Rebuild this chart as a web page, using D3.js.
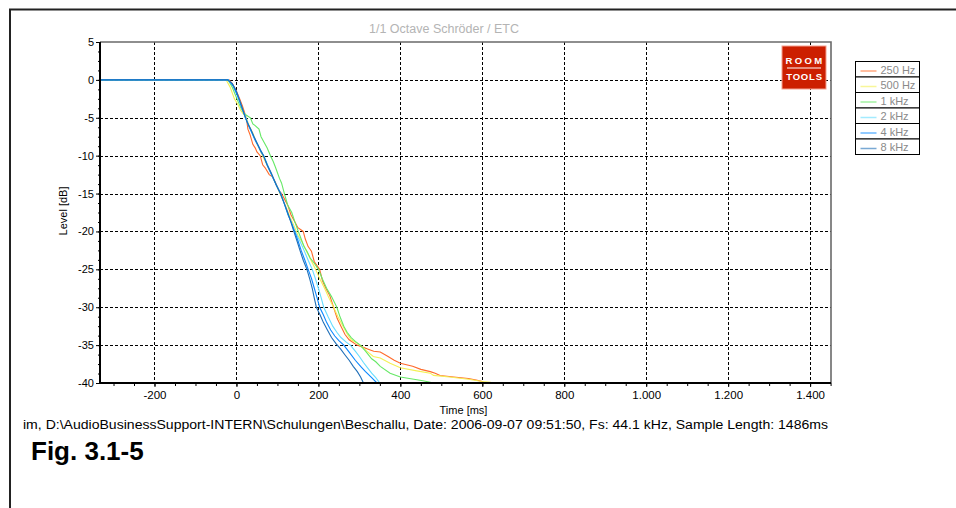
<!DOCTYPE html>
<html>
<head>
<meta charset="utf-8">
<script src="https://cdn.jsdelivr.net/npm/d3@7"></script>
<style>
  body { margin: 0; background: #fff; }
  svg { display: block; font-family: Arial, "Liberation Sans", sans-serif; }
</style>
</head>
<body>
<script>
// decay curves, [time ms, level dB]
const bands = ['250 Hz', '500 Hz', '1 kHz', '2 kHz', '4 kHz', '8 kHz'];
const bandColors = ['#ff6a2a', '#f4f055', '#66e866', '#66ddff', '#0a88ff', '#1f6fb8'];

const curve250 = [[-333,0],[-18,0],[-10,-0.5],[0,-1.5],[8,-2.5],[15,-3.5],[24,-5],[28,-6.5],[33,-7.2],[40,-8.5],[46,-9],[50,-9.5],[58,-10],[64,-11.2],[70,-11.6],[80,-12.5],[88,-12.8],[95,-13.5],[103,-14.5],[110,-15],[118,-15.8],[125,-16.5],[133,-17.8],[140,-18.5],[150,-19.5],[163,-20],[168,-21],[175,-22],[183,-22.6],[190,-24],[203,-25],[210,-26.5],[218,-27.5],[228,-28.5],[237,-30],[246,-31.5],[255,-32.5],[265,-33.6],[275,-34.3],[294,-35],[305,-35.2],[320,-35.5],[335,-35.8],[351,-35.9],[370,-36.5],[385,-37],[400,-37.4],[430,-37.8],[450,-38.2],[473,-38.5],[485,-38.7],[497,-39],[530,-39.2],[566,-39.4],[585,-39.6],[600,-39.8],[605,-40]];
const curve500 = [[-333,0],[-25,0],[-15,-1],[-5,-2.5],[3,-3.2],[10,-4],[24,-5],[32,-6.2],[40,-7],[48,-8.2],[55,-9],[68,-10.5],[78,-11.6],[90,-13],[100,-14.2],[110,-15.5],[120,-16.6],[130,-18],[140,-19.2],[150,-20.5],[160,-21.4],[170,-22.5],[182,-23.8],[193,-25],[204,-26.3],[215,-27.5],[226,-28.8],[237,-30],[248,-31.3],[260,-32.5],[270,-33.5],[280,-34.3],[290,-34.6],[302,-35],[318,-35.8],[334,-36.5],[351,-36.7],[375,-37.4],[400,-38],[440,-38.4],[473,-38.7],[481,-39],[520,-39.2],[566,-39.5],[600,-39.8],[620,-39.9],[625,-40]];
const curve1k = [[-333,0],[-20,0],[-10,-1],[5,-3],[12,-3.8],[20,-4.5],[34,-5],[40,-5.8],[45,-6],[55,-6.5],[60,-7.5],[65,-8],[75,-9],[83,-10],[90,-10.8],[95,-11.5],[105,-13],[110,-13.6],[117,-15],[125,-16.5],[135,-17.5],[143,-18.8],[151,-20],[158,-21],[165,-22],[172,-22.6],[180,-23.5],[190,-24.2],[200,-25],[210,-26.3],[220,-27.5],[232,-28.6],[245,-30],[253,-31.3],[262,-32.5],[270,-33.3],[280,-34],[290,-34.5],[302,-35],[315,-35.8],[330,-36.8],[340,-37.2],[351,-37.8],[375,-38.7],[400,-39.2],[433,-39.5],[455,-39.7],[473,-39.9],[477,-40]];
const curve2k = [[-333,0],[-20,0],[-8,-0.8],[2,-2],[12,-3.5],[23,-5],[30,-6],[38,-7],[45,-7.8],[52,-8.6],[60,-9.4],[67,-10],[78,-11.5],[88,-12.8],[98,-13.9],[108,-15],[118,-16.5],[126,-17.8],[135,-18.9],[143,-20],[155,-21.3],[165,-22.5],[175,-23.8],[185,-25],[193,-26.3],[200,-27.5],[207,-28.8],[213,-30],[224,-31.3],[235,-32.5],[245,-33.3],[255,-34],[268,-34.6],[278,-35],[290,-35.8],[300,-36.5],[310,-37.3],[320,-38],[330,-38.7],[340,-39.3],[350,-40]];
const curve4k = [[-333,0],[-20,0],[-8,-0.8],[2,-2],[12,-3.5],[22,-5],[30,-6.1],[38,-7],[45,-7.9],[52,-8.6],[60,-9.5],[66,-10],[76,-11.4],[88,-12.8],[98,-14],[108,-15],[117,-16.4],[126,-17.8],[134,-18.8],[142,-20],[150,-21.2],[158,-22.5],[167,-23.8],[175,-25],[183,-26.2],[190,-27.5],[197,-28.8],[203,-30],[212,-31],[220,-32],[230,-33],[240,-33.8],[250,-34.4],[262,-35],[276,-36],[290,-37],[303,-37.8],[315,-38.5],[330,-39.3],[343,-40]];
const curve8k = [[-333,0],[-22,0],[-10,-0.5],[0,-1.5],[10,-3],[22,-5],[28,-5.8],[35,-6.5],[43,-7.5],[50,-8.3],[58,-9.2],[66,-10],[75,-11.2],[85,-12.3],[96,-13.7],[107,-15],[116,-16.2],[125,-17.5],[133,-18.8],[140,-20],[148,-21.3],[155,-22.5],[163,-23.8],[172,-25],[179,-26.3],[185,-27.5],[190,-28.8],[195,-30],[204,-31],[212,-32],[222,-33],[232,-34],[243,-34.8],[254,-35.5],[265,-36.3],[275,-37],[285,-37.8],[295,-38.5],[303,-39.2],[310,-40]];
const curves = [curve250, curve500, curve1k, curve2k, curve4k, curve8k];

const xTicks = [-200, 0, 200, 400, 600, 800, 1000, 1200, 1400];
const yTicks = [5, 0, -5, -10, -15, -20, -25, -30, -35, -40];

const width = 956, height = 508;
const plot = { left: 100, right: 831, top: 42, bottom: 383 };

const svg = d3.select('body').append('svg')
  .attr('width', width)
  .attr('height', height);

// outer frame (runs off the page to the right and bottom)
svg.append('rect')
  .attr('x', 10).attr('y', 9.5)
  .attr('width', 1000).attr('height', 600)
  .attr('fill', 'none')
  .attr('stroke', '#222')
  .attr('stroke-width', 2);

const x = d3.scaleLinear().domain([-333, 1451]).range([plot.left, plot.right]);
const y = d3.scaleLinear().domain([-40, 5]).range([plot.bottom, plot.top]);

const de = d3.formatLocale({ decimal: ',', thousands: '.', grouping: [3], currency: ['', ''], minus: '-' });
const fmt = de.format(',d');

// grid
const grid = svg.append('g')
  .attr('stroke', '#000')
  .attr('stroke-width', 1)
  .attr('stroke-dasharray', '3,2');
grid.selectAll('line.v')
  .data(xTicks)
  .join('line')
  .attr('class', 'v')
  .attr('x1', d => Math.round(x(d)) + 0.5)
  .attr('x2', d => Math.round(x(d)) + 0.5)
  .attr('y1', plot.top)
  .attr('y2', plot.bottom);
grid.selectAll('line.h')
  .data(yTicks.filter(d => d < 5 && d > -40))
  .join('line')
  .attr('class', 'h')
  .attr('y1', d => Math.round(y(d)) + 0.5)
  .attr('y2', d => Math.round(y(d)) + 0.5)
  .attr('x1', plot.left)
  .attr('x2', plot.right);

// top / right border
svg.append('path')
  .attr('d', `M${plot.left},${plot.top}H${plot.right}V${plot.bottom}`)
  .attr('fill', 'none')
  .attr('stroke', '#6a6a6a')
  .attr('stroke-width', 1.6);

// curves
const line = d3.line()
  .x(d => x(d[0]))
  .y(d => y(d[1]));

svg.append('g')
  .attr('fill', 'none')
  .attr('stroke-width', 1.1)
  .selectAll('path')
  .data(curves)
  .join('path')
  .attr('stroke', (_, i) => bandColors[i])
  .attr('d', line);

// y axis
svg.append('g')
  .attr('transform', `translate(${plot.left},0)`)
  .call(d3.axisLeft(y).tickValues(d3.range(-40, 5.01, 1.25)).tickSize(2).tickFormat(''))
  .call(g => g.select('.domain').remove());
svg.append('g')
  .attr('transform', `translate(${plot.left},0)`)
  .call(d3.axisLeft(y).tickValues(yTicks).tickSize(4).tickPadding(2).tickFormat(fmt))
  .call(g => g.select('.domain').attr('stroke-width', 2).attr('d', `M0,${plot.top}V${plot.bottom}`))
  .call(g => g.selectAll('text').attr('font-size', 11).attr('font-family', 'Arial, "Liberation Sans", sans-serif').attr('fill', '#000'));

// x axis
svg.append('g')
  .attr('transform', `translate(0,${plot.bottom})`)
  .call(d3.axisBottom(x).tickValues(d3.range(-300, 1451, 50)).tickSize(3).tickFormat(''))
  .call(g => g.select('.domain').remove());
svg.append('g')
  .attr('transform', `translate(0,${plot.bottom})`)
  .call(d3.axisBottom(x).tickValues(xTicks).tickSize(4).tickPadding(4).tickFormat(fmt))
  .call(g => g.select('.domain').attr('stroke-width', 2).attr('d', `M${plot.left},0H${plot.right}`))
  .call(g => g.selectAll('text').attr('font-size', 11.5).attr('font-family', 'Arial, "Liberation Sans", sans-serif').attr('fill', '#000'));

// axis titles
svg.append('text')
  .attr('x', (plot.left + plot.right) / 2 - 2)
  .attr('y', 414)
  .attr('text-anchor', 'middle')
  .attr('font-size', 11)
  .text('Time [ms]');

svg.append('text')
  .attr('transform', 'translate(67,211) rotate(-90)')
  .attr('text-anchor', 'middle')
  .attr('font-size', 11)
  .text('Level [dB]');

// chart title
svg.append('text')
  .attr('x', 444)
  .attr('y', 33)
  .attr('text-anchor', 'middle')
  .attr('font-size', 12.5)
  .attr('fill', '#b4b4b4')
  .text('1/1 Octave Schröder / ETC');

// ROOM TOOLS logo
const logo = svg.append('g').attr('transform', 'translate(782,46)');
logo.append('rect')
  .attr('width', 44).attr('height', 43)
  .attr('fill', '#cc1f00')
  .attr('stroke', '#f3a08e')
  .attr('stroke-width', 1);
logo.append('text')
  .attr('x', 23).attr('y', 18)
  .attr('text-anchor', 'middle')
  .attr('font-size', 9.5)
  .attr('font-weight', 'bold')
  .attr('letter-spacing', 2.4)
  .attr('fill', '#fff')
  .text('ROOM');
logo.append('line')
  .attr('x1', 5).attr('x2', 39)
  .attr('y1', 22).attr('y2', 22)
  .attr('stroke', '#fff')
  .attr('stroke-width', 1);
logo.append('text')
  .attr('x', 22.5).attr('y', 34)
  .attr('text-anchor', 'middle')
  .attr('font-size', 9.5)
  .attr('font-weight', 'bold')
  .attr('letter-spacing', 0.8)
  .attr('fill', '#fff')
  .text('TOOLS');

// legend
const legend = svg.append('g').attr('transform', 'translate(855.5,61.5)');
const rowH = 15.5;
const rows = legend.selectAll('g')
  .data(bands)
  .join('g')
  .attr('transform', (_, i) => `translate(0,${i * rowH})`);
rows.append('rect')
  .attr('width', 64).attr('height', rowH)
  .attr('fill', '#fff')
  .attr('stroke', '#000')
  .attr('stroke-width', 1);
rows.append('line')
  .attr('x1', 5).attr('x2', 21)
  .attr('y1', 9.5).attr('y2', 9.5)
  .attr('stroke', (_, i) => bandColors[i])
  .attr('stroke-opacity', 0.6)
  .attr('stroke-width', 1.5);
rows.append('text')
  .attr('x', 25).attr('y', 12)
  .attr('font-size', 11)
  .attr('fill', '#8a8a8a')
  .text(d => d);

// footer
svg.append('text')
  .attr('x', 23)
  .attr('y', 429)
  .attr('font-size', 12.5)
  .attr('fill', '#000')
  .attr('textLength', 805)
  .attr('lengthAdjust', 'spacingAndGlyphs')
  .text('im, D:\\AudioBusinessSupport-INTERN\\Schulungen\\Beschallu, Date: 2006-09-07 09:51:50, Fs: 44.1 kHz, Sample Length: 1486ms');

svg.append('text')
  .attr('x', 31)
  .attr('y', 460)
  .attr('font-size', 26)
  .attr('font-weight', 'bold')
  .attr('fill', '#000')
  .text('Fig. 3.1-5');
</script>
</body>
</html>
